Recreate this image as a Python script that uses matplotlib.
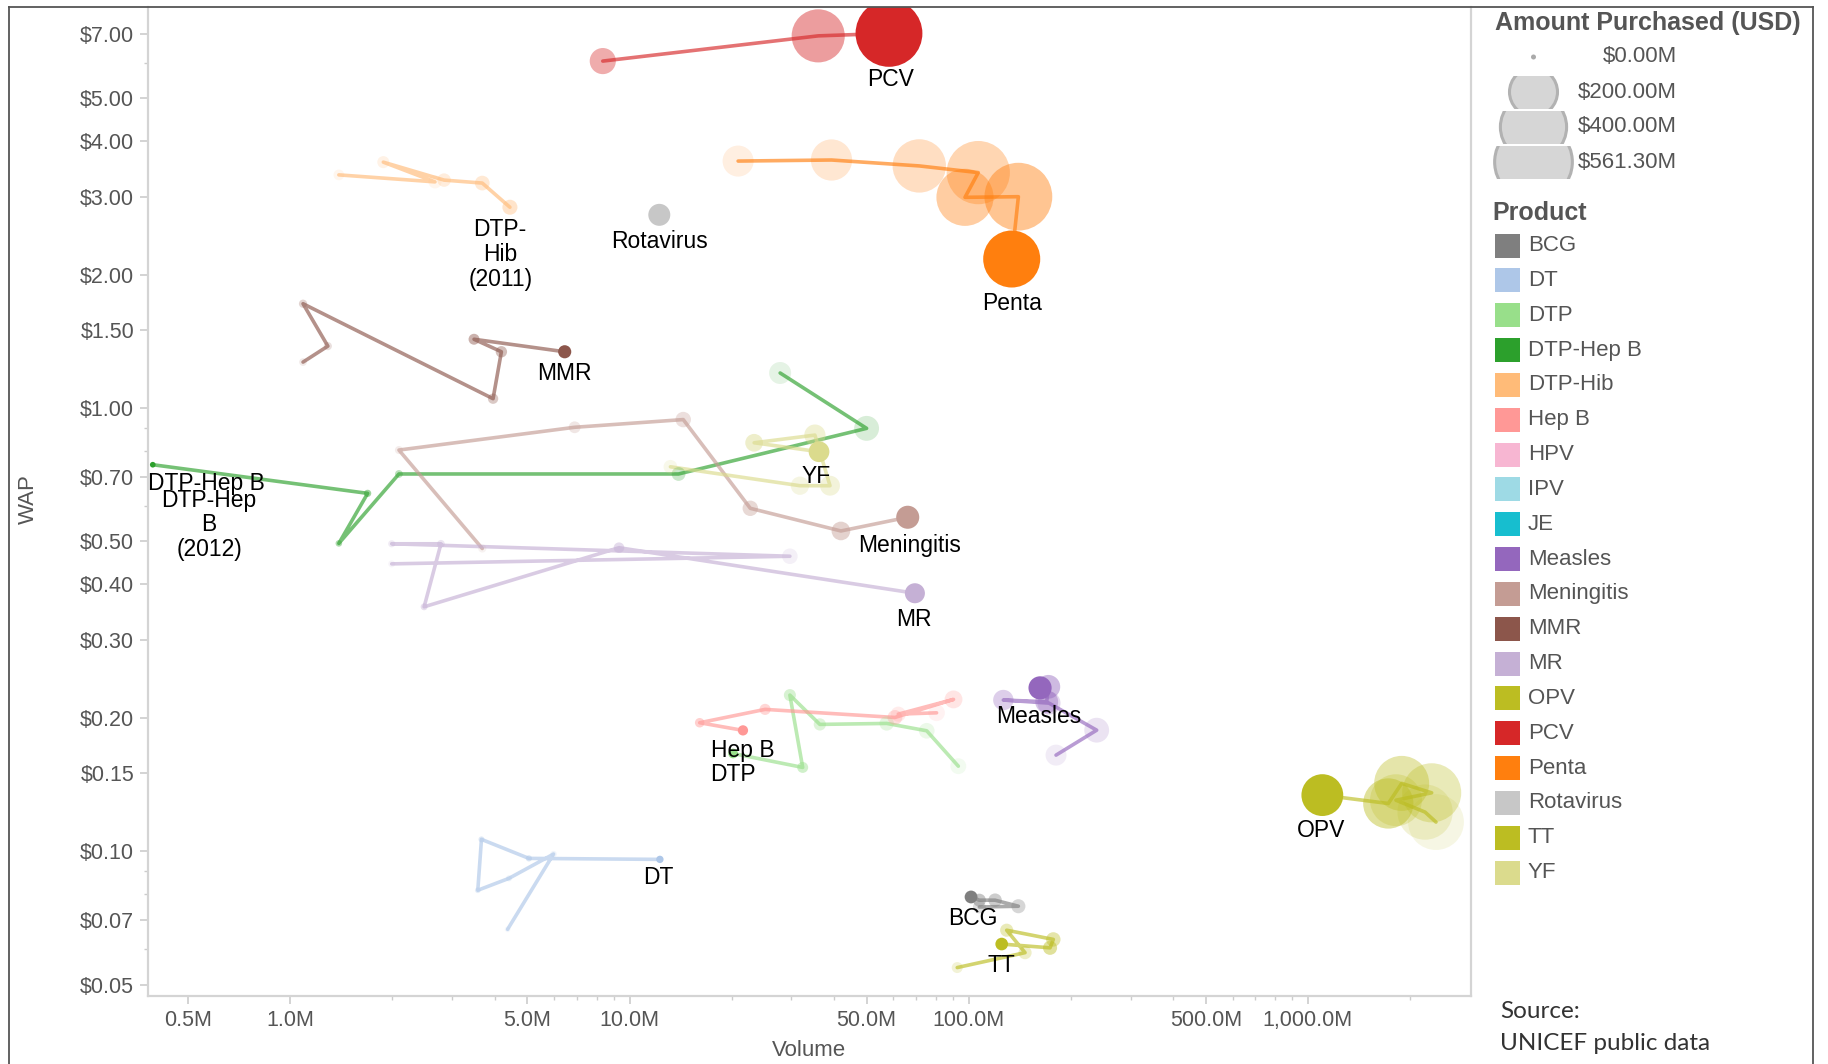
import numpy as np
import matplotlib.pyplot as plt
from matplotlib.patches import Circle, Rectangle
from matplotlib.colors import to_rgba

plt.rcParams['font.family'] = ['Liberation Sans', 'DejaVu Sans']

# legend order and Tableau 20 colours
products = ['BCG', 'DT', 'DTP', 'DTP-Hep B', 'DTP-Hib', 'Hep B', 'HPV', 'IPV', 'JE',
            'Measles', 'Meningitis', 'MMR', 'MR', 'OPV', 'PCV', 'Penta', 'Rotavirus',
            'TT', 'YF']
colors = ['#7f7f7f', '#aec7e8', '#98df8a', '#2ca02c', '#ffbb78', '#ff9896', '#f7b6d2',
          '#9edae5', '#17becf', '#9467bd', '#c49c94', '#8c564b', '#c5b0d5', '#bcbd22',
          '#d62728', '#ff7f0e', '#c7c7c7', '#bcbd22', '#dbdb8d']

# volume (millions of doses) and weighted average price (USD), oldest year first
bcg_volume = [107.5, 140.1, 119.6, 107.5, 101.6]
bcg_wap = [0.0748, 0.0751, 0.0775, 0.0775, 0.0788]
dt_volume = [4.37, 5.97, 4.41, 3.57, 3.66, 5.05, 12.29]
dt_wap = [0.0666, 0.0985, 0.0868, 0.0816, 0.1063, 0.0963, 0.0958]
dtp_volume = [93.2, 75.2, 57.3, 36.4, 29.7, 32.4, 20.2]
dtp_wap = [0.1555, 0.1869, 0.1942, 0.1932, 0.2250, 0.1545, 0.1661]
dtphepb_volume = [27.8, 50.0, 13.95, 2.09, 1.39, 1.69, 0.393]
dtphepb_wap = [1.20, 0.90, 0.71, 0.71, 0.495, 0.642, 0.745]
dtphib_volume = [1.39, 2.67, 1.88, 2.84, 3.68, 4.44]
dtphib_wap = [3.36, 3.24, 3.59, 3.27, 3.22, 2.84]
hepb_volume = [80.4, 62.0, 90.2, 60.6, 25.1, 16.1, 21.6]
hepb_wap = [0.2052, 0.2038, 0.2200, 0.2003, 0.2089, 0.1949, 0.1873]
measles_volume = [180.9, 238.4, 172.5, 126.5, 169.8, 171.7, 162.3]
measles_wap = [0.1647, 0.1875, 0.2158, 0.2193, 0.2173, 0.2349, 0.2336]
meningitis_volume = [3.68, 2.09, 6.89, 14.4, 22.7, 42.0, 66.1]
meningitis_wap = [0.482, 0.804, 0.905, 0.942, 0.594, 0.528, 0.567]
mmr_volume = [1.09, 1.29, 1.09, 3.96, 4.19, 3.48, 6.44]
mmr_wap = [1.27, 1.38, 1.72, 1.05, 1.34, 1.43, 1.34]
mr_volume = [1.99, 29.7, 1.99, 2.78, 2.48, 9.31, 69.4]
mr_wap = [0.445, 0.463, 0.494, 0.494, 0.356, 0.484, 0.382]
opv_volume = [2386, 2215, 1818, 2317, 1890, 1726, 1103]
opv_wap = [0.1163, 0.1225, 0.1303, 0.1354, 0.1422, 0.1281, 0.1338]
pcv_volume = [8.34, 36.0, 58.2]
pcv_wap = [6.07, 6.92, 7.01]
penta_volume = [20.9, 39.4, 71.5, 106.7, 97.5, 140.1, 133.9]
penta_wap = [3.61, 3.63, 3.52, 3.40, 2.99, 3.00, 2.17]
rota_volume = [12.24]
rota_wap = [2.73]
tt_volume = [92.5, 146.6, 129.4, 177.6, 173.7, 125.1]
tt_wap = [0.0546, 0.0590, 0.0663, 0.0632, 0.0605, 0.0617]
yf_volume = [13.2, 31.8, 39.0, 35.2, 23.3, 36.2]
yf_wap = [0.737, 0.668, 0.668, 0.869, 0.835, 0.797]

series = {
    'BCG': (bcg_volume, bcg_wap),
    'DT': (dt_volume, dt_wap),
    'DTP': (dtp_volume, dtp_wap),
    'DTP-Hep B': (dtphepb_volume, dtphepb_wap),
    'DTP-Hib': (dtphib_volume, dtphib_wap),
    'Hep B': (hepb_volume, hepb_wap),
    'Measles': (measles_volume, measles_wap),
    'Meningitis': (meningitis_volume, meningitis_wap),
    'MMR': (mmr_volume, mmr_wap),
    'MR': (mr_volume, mr_wap),
    'OPV': (opv_volume, opv_wap),
    'PCV': (pcv_volume, pcv_wap),
    'Penta': (penta_volume, penta_wap),
    'Rotavirus': (rota_volume, rota_wap),
    'TT': (tt_volume, tt_wap),
    'YF': (yf_volume, yf_wap),
}
# years before the latest one at which a product's series stops
ends_early = {'DTP-Hib': 2}

size_legend = [0, 200, 400, 561.3]
size_legend_labels = ['$0.00M', '$200.00M', '$400.00M', '$561.30M']

y_ticks = [0.05, 0.07, 0.10, 0.15, 0.20, 0.30, 0.40, 0.50, 0.70, 1.0, 1.5, 2.0, 3.0, 4.0, 5.0, 7.0]
x_ticks = [0.5, 1, 5, 10, 50, 100, 500, 1000]
x_tick_labels = ['0.5M', '1.0M', '5.0M', '10.0M', '50.0M', '100.0M', '500.0M', '1,000.0M']

# label text + offset (points) from the last point of each product
labels = {
    'PCV': [('PCV', (1, -33.5))],
    'Penta': [('Penta', (0, -31.7))],
    'Rotavirus': [('Rotavirus', (0, -19))],
    'DTP-Hib': [('DTP-\nHib\n(2011)', (-7, -34))],
    'MMR': [('MMR', (0, -16))],
    'DTP-Hep B': [('DTP-Hep B', (39, -13.4)), ('DTP-Hep\nB\n(2012)', (40.5, -43.4))],
    'Meningitis': [('Meningitis', (1, -20))],
    'MR': [('MR', (-1, -18.7))],
    'YF': [('YF', (-1.7, -17.5))],
    'Measles': [('Measles', (-1, -20.4))],
    'Hep B': [('Hep B', (0, -14.2))],
    'DTP': [('DTP', (0, -15.1))],
    'DT': [('DT', (-1, -13))],
    'BCG': [('BCG', (1, -15.6))],
    'TT': [('TT', (0, -15.1))],
    'OPV': [('OPV', (-1, -25.2))],
}


def radius_px(amount):
    return 2 + 22 * np.sqrt(np.asarray(amount) / 200.0)


def year_alpha(k):
    # k = number of years before the latest year
    if k == 0:
        return 1.0
    return max(0.12, 0.45 - (k - 1) * 0.066)


W, H = 1828, 1064
fig = plt.figure(figsize=(W / 100, H / 100), dpi=100)
ax = fig.add_axes([148 / W, 1 - 996 / H, (1471 - 148) / W, (996 - 7) / H])
ax.set_xscale('log')
ax.set_yscale('log')
ax.set_xlim(0.3805, 3026)
ax.set_ylim(0.0471, 8.04)

for name, color in zip(products, colors):
    if name not in series:
        continue
    vol, wap = series[name]
    vol = np.array(vol)
    wap = np.array(wap)
    amount = vol * wap
    n = len(vol)
    shift = ends_early.get(name, 0)
    alphas = [year_alpha(n - 1 - i + shift) for i in range(n)]
    if n > 1:
        ax.plot(vol, wap, color=color, alpha=0.65, lw=2.6, zorder=2,
                solid_capstyle='round')
    fc = [to_rgba(color, a) for a in alphas]
    s = (2 * radius_px(amount) * 0.72) ** 2
    ax.scatter(vol, wap, s=s, c=fc, edgecolors='none', zorder=3)
    for txt, off in labels.get(name, []):
        ax.annotate(txt, (vol[-1], wap[-1]), xytext=off, textcoords='offset points',
                    ha='center', va='center', fontsize=16.5, color='black',
                    linespacing=1.1, zorder=5)

ax.set_yticks(y_ticks)
ax.set_yticklabels(['$%.2f' % v for v in y_ticks])
ax.set_yticks([0.06, 0.08, 0.09, 0.6, 0.8, 0.9, 6.0], minor=True)
ax.set_xticks(x_ticks)
ax.set_xticklabels(x_tick_labels)
ax.set_xticks([2, 3, 4, 6, 7, 8, 9, 20, 30, 40, 60, 70, 80, 90,
               200, 300, 400, 600, 700, 800, 900, 2000], minor=True)
ax.tick_params(axis='both', which='minor', labelleft=False, labelbottom=False)
ax.tick_params(which='major', length=6, width=1.2, color='#cccccc',
               labelsize=15.5, labelcolor='#555555', pad=4)
ax.tick_params(which='minor', length=3, width=1, color='#cccccc')
ax.spines['top'].set_visible(False)
for side in ['left', 'bottom', 'right']:
    ax.spines[side].set_color('#d4d4d4')
    ax.spines[side].set_linewidth(1.6)

fig.text(28 / W, 1 - 499 / H, 'WAP', rotation=90, ha='center', va='center',
         fontsize=16, color='#555555')
fig.text(809 / W, 1 - 1051 / H, 'Volume', ha='center', va='center',
         fontsize=16, color='#555555')

# overlay in pixel coordinates for the frame and legends
ov = fig.add_axes([0, 0, 1, 1])
ov.set_xlim(0, W)
ov.set_ylim(H, 0)
ov.axis('off')
ov.plot([9, 9], [6.5, H], color='#555555', lw=1.3)
ov.plot([9, 1813], [6.5, 6.5], color='#555555', lw=1.3)
ov.plot([1813, 1813], [6.5, H], color='#555555', lw=1.3)

ov.text(1495, 23, 'Amount Purchased (USD)', fontsize=18, fontweight='bold',
        color='#555555', va='center', ha='left')
for i, (amt, lab) in enumerate(zip(size_legend, size_legend_labels)):
    yc = 57 + 35 * i
    r = float(radius_px(amt))
    if amt == 0:
        ov.add_patch(Circle((1533.5, yc), 2.5, fc='#aaaaaa', ec='none'))
    else:
        c = Circle((1533.5, yc), r, fc='#d6d6d6', ec='#b2b2b2', lw=2.2)
        ov.add_patch(c)
        clip = Rectangle((1480, yc - 16.5), 120, 33, transform=ov.transData)
        c.set_clip_path(clip)
    ov.text(1677, yc, lab, fontsize=16, color='#555555', ha='right', va='center')

ov.text(1492, 213, 'Product', fontsize=18, fontweight='bold', color='#555555',
        va='center', ha='left')
for i, (name, color) in enumerate(zip(products, colors)):
    yc = 245.6 + 34.83 * i
    ov.add_patch(Rectangle((1495, yc - 12), 25, 24, fc=color, ec='none'))
    ov.text(1528, yc, name, fontsize=16, color='#555555', ha='left', va='center')

ov.text(1500, 1012, 'Source:', family=['Lato', 'DejaVu Sans'], fontsize=17.5,
        color='#333333', ha='left', va='center')
ov.text(1500, 1044, 'UNICEF public data', family=['Lato', 'DejaVu Sans'], fontsize=17.5,
        color='#333333', ha='left', va='center')

fig.savefig('out.png', dpi=100)
